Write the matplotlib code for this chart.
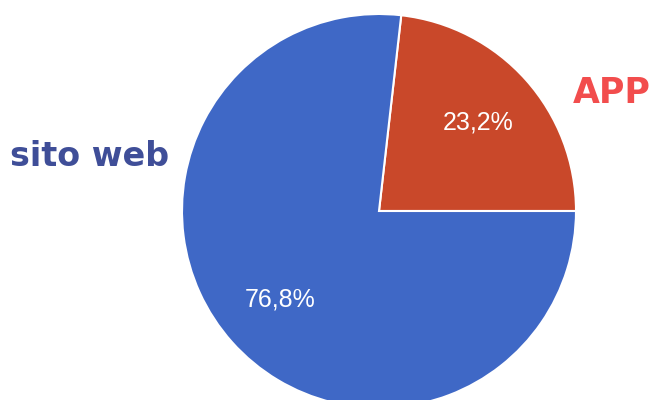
import matplotlib
matplotlib.use('Agg')
import matplotlib.pyplot as plt
import numpy as np

labels = ['APP', 'sito web']
shares = [23.2, 76.8]
pct_labels = ['23,2%', '76,8%']

slice_colors = ['#C9482A', '#3F68C6']
label_colors = ['#F24D4D', '#3F4E98']

fig = plt.figure(figsize=(6.54, 4.0), dpi=100)
# pie centre at (379, 211) px, radius ~197 px
ax = fig.add_axes([(379 - 197) / 654, (400 - 211 - 197) / 400, 394 / 654, 394 / 400])

wedges, texts = ax.pie(shares, colors=slice_colors, startangle=0, counterclock=True,
                       wedgeprops={'edgecolor': 'white', 'linewidth': 1.5})

# percentage labels at the middle of each wedge
for w, txt in zip(wedges, pct_labels):
    mid = np.deg2rad((w.theta1 + w.theta2) / 2)
    ax.text(0.675 * np.cos(mid), 0.675 * np.sin(mid), txt, ha='center', va='center',
            color='white', fontsize=18, family='Liberation Sans')

ax.text(0.985, 0.60, labels[0], ha='left', va='center', color=label_colors[0],
        fontsize=25, family='DejaVu Sans', fontweight='bold')
ax.text(-1.873, 0.275, labels[1], ha='left', va='center', color=label_colors[1],
        fontsize=24, family='DejaVu Sans', fontweight='bold')

ax.set_xlim(-1, 1)
ax.set_ylim(-1, 1)
ax.set_aspect('equal')
ax.axis('off')

fig.savefig('out.png', dpi=100)
